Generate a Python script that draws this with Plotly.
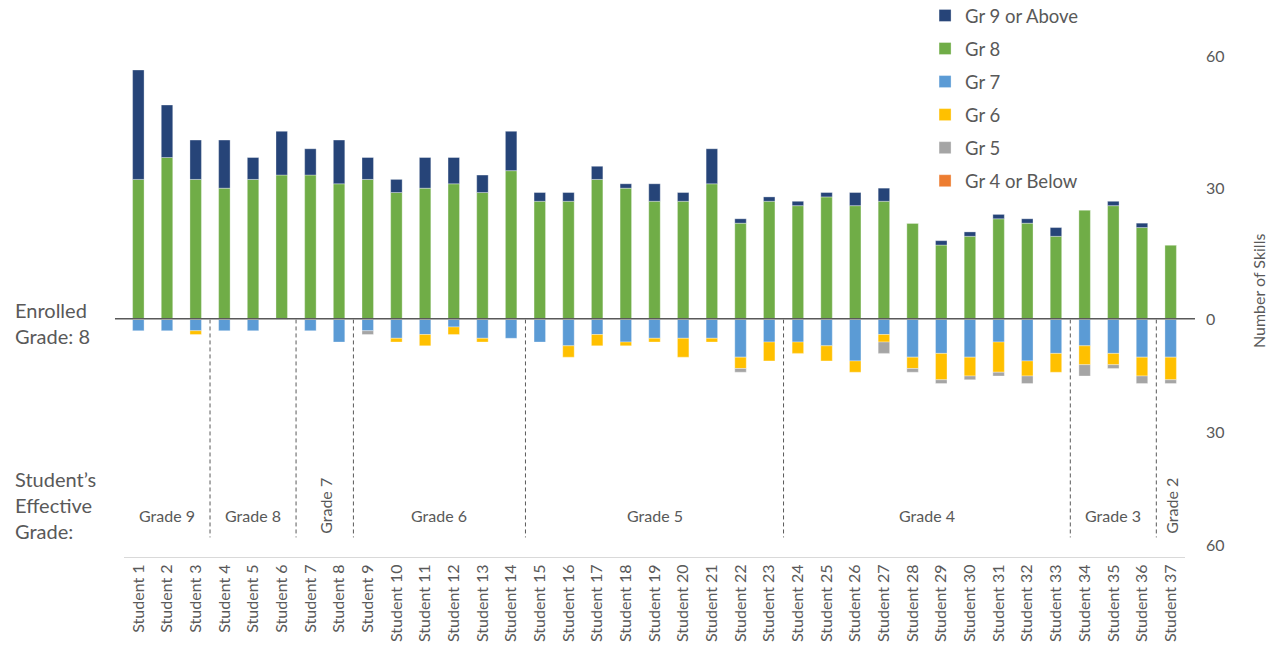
import plotly.graph_objects as go

# Students and their skill counts by grade level of the skill
students = [f"Student {i}" for i in range(1, 38)]

gr9_above = [25, 12, 9, 11, 5, 10, 6, 10, 5, 3, 7, 6, 4, 9, 2, 2, 3, 1, 4, 2, 8, 1, 1, 1, 1, 3, 3, 0, 1, 1, 1, 1, 2, 0, 1, 1, 0]
gr8 = [32, 37, 32, 30, 32, 33, 33, 31, 32, 29, 30, 31, 29, 34, 27, 27, 32, 30, 27, 27, 31, 22, 27, 26, 28, 26, 27, 22, 17, 19, 23, 22, 19, 25, 26, 21, 17]
gr7 = [3, 3, 3, 3, 3, 0, 3, 6, 3, 5, 4, 2, 5, 5, 6, 7, 4, 6, 5, 5, 5, 10, 6, 6, 7, 11, 4, 10, 9, 10, 6, 11, 9, 7, 9, 10, 10]
gr6 = [0, 0, 1, 0, 0, 0, 0, 0, 0, 1, 3, 2, 1, 0, 0, 3, 3, 1, 1, 5, 1, 3, 5, 3, 4, 3, 2, 3, 7, 5, 8, 4, 5, 5, 3, 5, 6]
gr5 = [0, 0, 0, 0, 0, 0, 0, 0, 1, 0, 0, 0, 0, 0, 0, 0, 0, 0, 0, 0, 0, 1, 0, 0, 0, 0, 3, 1, 1, 1, 1, 2, 0, 3, 1, 2, 1]
gr4_below = [0] * 37

# Effective-grade groups: label, first and last student index (0-based)
grade_groups = [
    ("Grade 9", 0, 2), ("Grade 8", 3, 5), ("Grade 7", 6, 7), ("Grade 6", 8, 13),
    ("Grade 5", 14, 22), ("Grade 4", 23, 32), ("Grade 3", 33, 35), ("Grade 2", 36, 36),
]

FONT = "Lato, Carlito, Calibri, sans-serif"
TXT = "#595959"
C_GR9, C_GR8, C_GR7, C_GR6, C_GR5, C_GR4 = "#264478", "#70AD47", "#5B9BD5", "#FFC000", "#A5A5A5", "#ED7D31"
OUTLINE = dict(color="rgba(255,255,255,0.55)", width=0.6)

split = 0.4265  # boundary between the upper (at/above grade) and lower (below grade) panels

fig = go.Figure()

# Upper panel: at or above enrolled grade
fig.add_trace(go.Bar(x=students, y=gr8, name="Gr 8", marker=dict(color=C_GR8, line=OUTLINE),
                     xaxis="x", yaxis="y", legendrank=2, legendgroup="g8"))
fig.add_trace(go.Bar(x=students, y=gr9_above, name="Gr 9 or Above", marker=dict(color=C_GR9, line=OUTLINE),
                     xaxis="x", yaxis="y", legendrank=1, legendgroup="g9"))

# Lower panel: below enrolled grade, drawn downward
for vals, name, col, rank, grp in [
    (gr7, "Gr 7", C_GR7, 3, "g7"),
    (gr6, "Gr 6", C_GR6, 4, "g6"),
    (gr5, "Gr 5", C_GR5, 5, "g5"),
    (gr4_below, "Gr 4 or Below", C_GR4, 6, "g4"),
]:
    fig.add_trace(go.Bar(x=students, y=[-v for v in vals], customdata=vals, name=name,
                         marker=dict(color=col, line=OUTLINE), xaxis="x2", yaxis="y2",
                         legendrank=rank, legendgroup=grp,
                         hovertemplate="%{x}<br>" + name + ": %{customdata}<extra></extra>"))

shapes = []
# Enrolled-grade baseline
shapes.append(dict(type="line", xref="paper", yref="y", x0=-0.0085, x1=1.0094, y0=0, y1=0,
                   line=dict(color="#595959", width=3), layer="above"))
# Dashed separators between effective-grade groups
for _, start, _end in grade_groups[1:]:
    shapes.append(dict(type="line", xref="x2", yref="y2", x0=start - 0.5, x1=start - 0.5, y0=0, y1=-57.8,
                       line=dict(color="#595959", width=1, dash="4px,3px"), layer="below"))

annotations = []
for label, start, end in grade_groups:
    mid = (start + end) / 2
    narrow = end - start < 2
    annotations.append(dict(
        text=label, xref="x2", yref="y2", x=mid, y=-49.5 if narrow else -52.0,
        showarrow=False, textangle=-90 if narrow else 0,
        font=dict(family=FONT, size=16, color=TXT)))

annotations += [
    dict(text="Enrolled<br>Grade: 8", xref="paper", yref="paper", x=-0.1046, y=1 - 322.5 / 556.8,
         xanchor="left", yanchor="middle", align="left", showarrow=False,
         font=dict(family=FONT, size=20, color=TXT)),
    dict(text="Student’s<br>Effective<br>Grade:", xref="paper", yref="paper", x=-0.1046, y=1 - 505 / 556.8,
         xanchor="left", yanchor="middle", align="left", showarrow=False,
         font=dict(family=FONT, size=20, color=TXT)),
    dict(text="Number of Skills", xref="paper", yref="paper", x=1.0688, y=1 - 290 / 556.8,
         xanchor="center", yanchor="middle", textangle=-90, showarrow=False,
         font=dict(family=FONT, size=16, color=TXT)),
]

fig.update_layout(
    width=1278, height=652,
    margin=dict(l=124, r=93, t=0, b=95, autoexpand=False),
    paper_bgcolor="white", plot_bgcolor="white",
    barmode="relative", bargap=0.6,
    font=dict(family=FONT, color=TXT),
    showlegend=True,
    legend=dict(x=0.755, y=1.0055, xanchor="left", yanchor="top", tracegroupgap=6,
                font=dict(family=FONT, size=18.5, color=TXT), bgcolor="rgba(0,0,0,0)",
                itemclick=False),
    xaxis=dict(domain=[0, 1], anchor="y", matches="x2", visible=False),
    xaxis2=dict(domain=[0, 1], anchor="y2", showline=True, linecolor="#D9D9D9", linewidth=1,
                ticks="", tickangle=-90, tickfont=dict(family=FONT, size=16, color=TXT),
                showgrid=False, zeroline=False),
    yaxis=dict(domain=[split, 1], anchor="x", side="right", range=[0, 73],
               tickvals=[0, 30, 60], ticktext=["0", "30", "60"], showgrid=False, zeroline=False,
               showline=False, ticks="", ticklabelstandoff=20,
               tickfont=dict(family=FONT, size=16, color=TXT)),
    yaxis2=dict(domain=[0, split], anchor="x2", side="right", range=[-63, 0],
                tickvals=[-30, -60], ticktext=["30", "60"], showgrid=False, zeroline=False,
                showline=False, ticks="", ticklabelstandoff=20,
                tickfont=dict(family=FONT, size=16, color=TXT)),
    shapes=shapes,
    annotations=annotations,
)

fig.write_html("out.html")
